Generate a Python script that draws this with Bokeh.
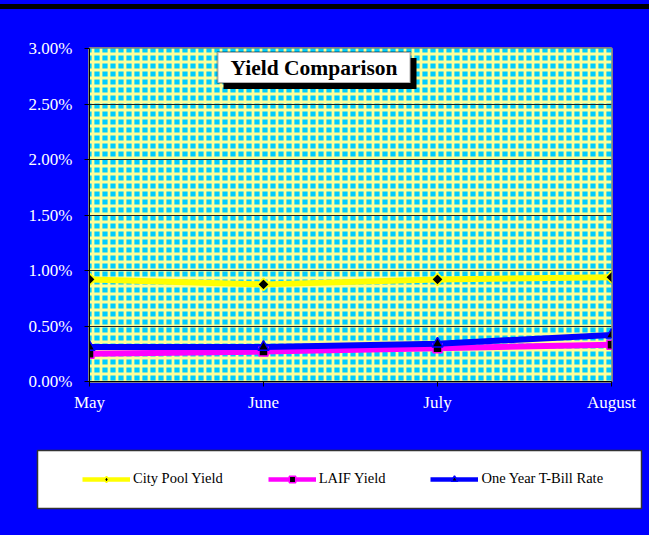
from bokeh.plotting import figure
from bokeh.models import (Range1d, FixedTicker, NumeralTickFormatter, BoxAnnotation,
                          Label, Legend, LegendItem, Div)
from bokeh.layouts import column
from bokeh.embed import file_html
from bokeh.resources import INLINE
import numpy as np

# ---- data ----
months = ["May", "June", "July", "August"]
city_pool = [0.0092, 0.00875, 0.0092, 0.0094]
laif = [0.0025, 0.0027, 0.0030, 0.0033]
tbill = [0.0031, 0.0031, 0.0034, 0.0042]
y_ticks = [0.0, 0.005, 0.01, 0.015, 0.02, 0.025, 0.03]
series_names = ["City Pool Yield", "LAIF Yield", "One Year T-Bill Rate"]
chart_title = "Yield Comparison"

x = list(range(len(months)))
FONT = "Liberation Serif"
YELLOW, MAGENTA, BLUE = "#FFFF00", "#FF00FF", "#0000FF"
W = 649

# ---- top strip with black bar ----
top = Div(width=W, height=9, margin=0, text="",
          styles={"background": "linear-gradient(to bottom, #0000FF 0px, #0000FF 4px, #000000 4px, #000000 9px)"})

# ---- main chart ----
p = figure(width=W, height=421, output_backend="svg", toolbar_location=None,
           x_range=Range1d(0, len(months) - 1), y_range=Range1d(0, 0.03),
           min_border_left=89, min_border_right=38, min_border_top=39, min_border_bottom=49)
p.frame_align = False
p.border_fill_color = BLUE
p.background_fill_color = "#00CCFF"
p.outline_line_color = "#808080"
p.outline_line_width = 3

bg = BoxAnnotation(level="image", fill_color="#00CCFF", fill_alpha=1.0, line_color=None,
                   hatch_pattern="cross", hatch_color="#FFFF99", hatch_scale=8, hatch_weight=2.8)
p.add_layout(bg)

p.xaxis.ticker = FixedTicker(ticks=x)
p.xaxis.major_label_overrides = {i: m for i, m in enumerate(months)}
p.yaxis.ticker = FixedTicker(ticks=y_ticks)
p.yaxis.formatter = NumeralTickFormatter(format="0.00%")
for ax in (p.xaxis, p.yaxis):
    ax.axis_line_color = "black"
    ax.major_tick_line_color = "black"
    ax.major_tick_out = 5
    ax.major_tick_in = 0
    ax.minor_tick_line_color = None
    ax.major_label_text_color = "white"
    ax.major_label_text_font = FONT
    ax.major_label_text_font_size = "17px"
p.yaxis.major_label_standoff = 12
p.xaxis.major_label_standoff = 6

p.xgrid.grid_line_color = None
p.ygrid.grid_line_color = "#222222"
p.ygrid.grid_line_width = 1

p.line(x, city_pool, line_color=YELLOW, line_width=6)
p.line(x, laif, line_color=MAGENTA, line_width=6)
p.line(x, tbill, line_color=BLUE, line_width=6)
p.scatter(x, city_pool, marker="square", angle=np.pi / 4, size=8.5,
          fill_color="black", line_color=YELLOW, line_width=1.5)
p.scatter(x, laif, marker="square", size=9,
          fill_color="black", line_color=MAGENTA, line_width=1.5)
p.scatter(x, tbill, marker="triangle", size=11,
          fill_color="black", line_color=BLUE, line_width=1.5)

# title box with shadow
p.add_layout(BoxAnnotation(left=223, right=416, top=48.5, bottom=79.5,
                           left_units="canvas", right_units="canvas",
                           top_units="canvas", bottom_units="canvas",
                           fill_color="black", fill_alpha=1, line_color=None))
p.add_layout(BoxAnnotation(left=217, right=410, top=42.5, bottom=73.5,
                           left_units="canvas", right_units="canvas",
                           top_units="canvas", bottom_units="canvas",
                           fill_color="white", fill_alpha=1, line_color="black", line_width=2))
p.add_layout(Label(x=313.5, y=58, x_units="canvas", y_units="canvas", text=chart_title,
                   text_font=FONT, text_font_size="21.5px", text_font_style="bold",
                   text_color="black", text_align="center", text_baseline="middle"))

# ---- legend panel ----
q = figure(width=W, height=105, output_backend="svg", toolbar_location=None,
           x_range=Range1d(0, 1), y_range=Range1d(10, 11),
           min_border_left=37, min_border_right=8, min_border_top=20, min_border_bottom=27)
q.frame_align = False
q.axis.visible = False
q.grid.grid_line_color = None
q.border_fill_color = BLUE
q.background_fill_color = "white"
q.outline_line_color = "#333333"
q.outline_line_width = 1.5

l1 = q.line(x, city_pool, line_color=YELLOW, line_width=4.5)
l2 = q.line(x, laif, line_color=MAGENTA, line_width=4.5)
l3 = q.line(x, tbill, line_color=BLUE, line_width=4.5)
s1 = q.scatter(x, city_pool, marker="diamond", size=7,
               fill_color="black", line_color=YELLOW, line_width=1.5)
s2 = q.scatter(x, laif, marker="square", size=7,
               fill_color="black", line_color=MAGENTA, line_width=1.5)
s3 = q.scatter(x, tbill, marker="triangle", size=7,
               fill_color="black", line_color=BLUE, line_width=1.5)

legend = Legend(items=[LegendItem(label=series_names[0], renderers=[l1, s1]),
                       LegendItem(label=series_names[1], renderers=[l2, s2]),
                       LegendItem(label=series_names[2], renderers=[l3, s3])],
                orientation="horizontal", location=(45, 21),
                padding=0, margin=0, spacing=45, glyph_width=48, glyph_height=16,
                label_standoff=3, label_height=16,
                label_text_font=FONT, label_text_font_size="14.5px", label_text_color="black",
                border_line_color=None, background_fill_alpha=0)
q.add_layout(legend)

layout = column(top, p, q, spacing=0, styles={"background-color": BLUE})
open("out.html", "w").write(file_html(layout, INLINE))
